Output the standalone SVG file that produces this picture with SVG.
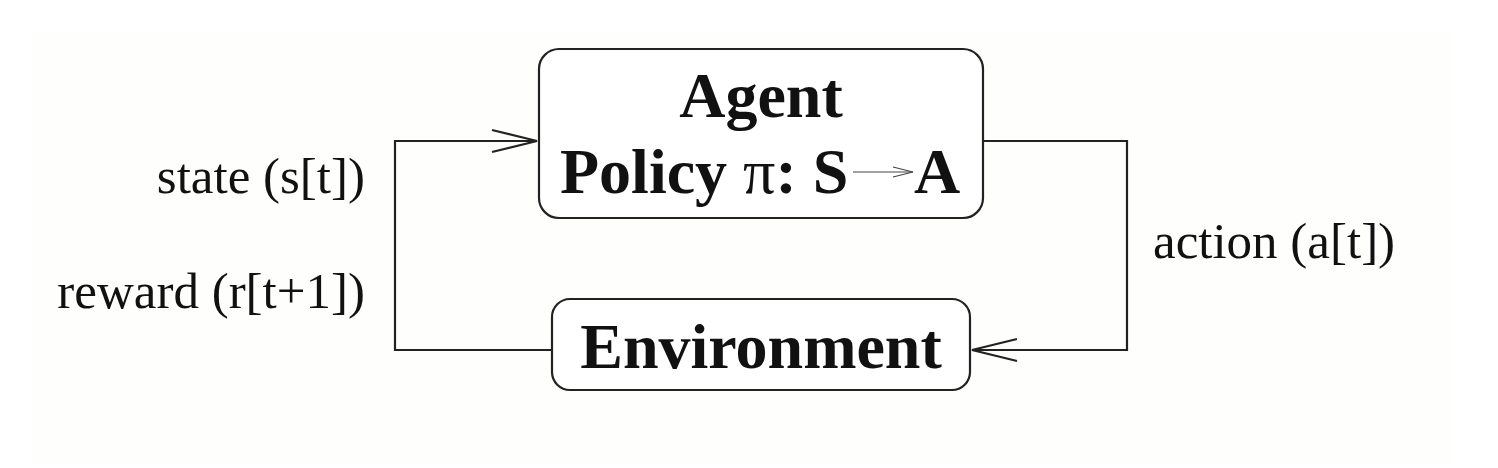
<svg xmlns="http://www.w3.org/2000/svg" width="1498" height="468" viewBox="0 0 1498 468">
<style>
.box{fill:#fff;stroke:#222;stroke-width:2.2}
.conn{fill:none;stroke:#222;stroke-width:2.2}
.head{fill:none;stroke:#222;stroke-width:2.2}
.title{font-family:"Liberation Serif","Times New Roman",serif;font-weight:bold;font-size:64px;fill:#111}
.lbl{font-family:"Liberation Serif","Times New Roman",serif;font-size:51px;fill:#111}
</style>
<rect x="0" y="0" width="1498" height="468" fill="#ffffff"/>
<rect x="32" y="32" width="1420" height="432" fill="#fefefd"/>
<g id="connectors">
<path class="conn" d="M552,350 H395 V141 H537"/>
<polyline class="head" points="492,130 537,141 492,152"/>
<path class="conn" d="M983,141 H1127 V350 H972"/>
<polyline class="head" points="1017,339 972,350 1017,361"/>
</g>
<g id="agent">
<rect class="box" x="539" y="49" width="444" height="169" rx="20"/>
<text class="title" x="761" y="117" text-anchor="middle">Agent</text>
<text class="title" x="560" y="193">Policy <tspan font-weight="normal">π</tspan>: S</text>
<line x1="853" y1="172" x2="913" y2="172" stroke="#444" stroke-width="1.2"/>
<polyline points="893,167 913,172 893,177" fill="none" stroke="#444" stroke-width="1.2"/>
<text class="title" x="914" y="193">A</text>
</g>
<g id="environment">
<rect class="box" x="552" y="299" width="418" height="91" rx="18"/>
<text class="title" x="761" y="368" text-anchor="middle">Environment</text>
</g>
<g id="labels">
<text class="lbl" x="365" y="193" text-anchor="end">state (s[t])</text>
<text class="lbl" x="365" y="308" text-anchor="end">reward (r[t+1])</text>
<text class="lbl" x="1153" y="258">action (a[t])</text>
</g>
</svg>
